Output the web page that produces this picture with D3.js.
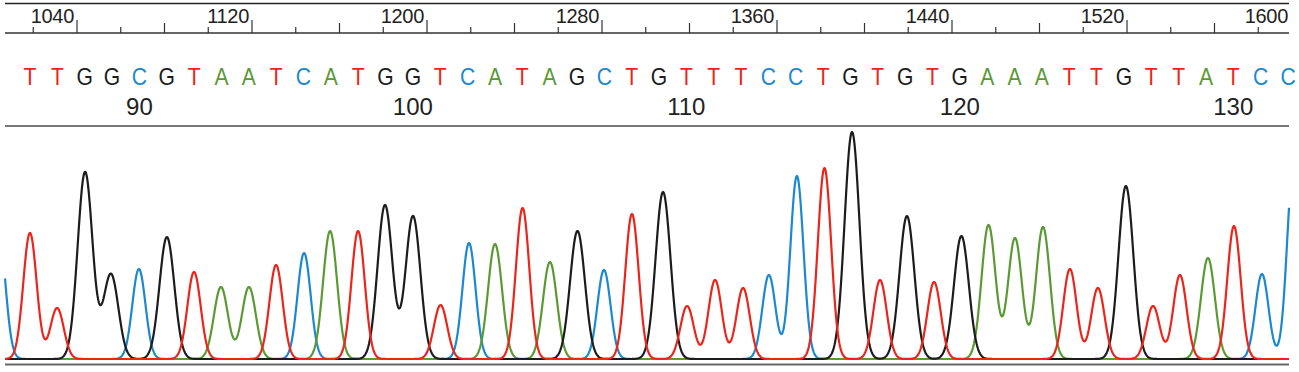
<!DOCTYPE html>
<html lang="en">
<head>
<meta charset="UTF-8">
<title>Chromatogram</title>
<script src="https://d3js.org/d3.v7.min.js"></script>
<style>
  body { margin: 0; background: #fff; }
  text { font-family: "Liberation Sans", Arial, sans-serif; }
</style>
</head>
<body>
<div id="chart"></div>
<script>
// base calls, numbered 86..132
const bases = "TTGGCGTAATCATGGTCATAGCTGTTTCCTGTGTGAAATTGTTATCC".split("");
const firstBase = 86;
const baseTicks = [90, 100, 110, 120, 130];

// peaks (scan position, height)
const peakBases = "CTTGGCGTAATCATGGTCATAGCTGTTTCCTGTGTGAAATTGTTATCC".split("");
const peakScan = [1004.3, 1018.5, 1030.9, 1043.7, 1055.5, 1068.3, 1081.1, 1093.5, 1105.8, 1118.6,
    1131.0, 1143.8, 1155.7, 1168.5, 1180.8, 1193.6, 1206.2, 1219.2, 1231.1, 1243.7,
    1256.2, 1268.8, 1280.9, 1293.7, 1307.9, 1318.9, 1331.7, 1344.5, 1356.3, 1369.1,
    1381.7, 1394.3, 1407.1, 1419.4, 1431.8, 1444.3, 1456.7, 1468.8, 1481.6, 1493.9,
    1506.7, 1519.5, 1531.9, 1544.2, 1557.0, 1568.9, 1581.7, 1596.3];
const peakHeight = [124, 126, 51, 187, 85, 90, 122, 87, 72, 72,
    94, 106, 128, 128, 154, 143, 54, 116, 115, 151,
    97, 128, 89, 145, 167, 53, 79, 71, 84, 183,
    191, 227, 79, 143, 77, 123, 134, 121, 132, 90,
    71, 173, 53, 84, 101, 133, 85, 200];

// scan axis
const scanTicks = d3.range(1020, 1601, 20);
const colors = { A: "#5b9a33", C: "#1c88cf", G: "#1c1c1c", T: "#ec2419" };
const widths = { A: 3.2, C: 3.0, G: 3.4, T: 3.05 };

const W = 1299, H = 372;
const left = 5, right = 1289;

const svg = d3.select("#chart").append("svg")
    .attr("width", W)
    .attr("height", H);

svg.append("rect").attr("width", W).attr("height", H).attr("fill", "#fff");

const x = d3.scaleLinear().domain([1040, 1600]).range([77, 1302]);
const xBase = d3.scaleLinear().domain([firstBase, firstBase + bases.length - 1]).range([30, 1288]);
const y = d3.scaleLinear().domain([0, 250]).range([359, 109]);

// frame lines
const hline = (yy, color, w) => svg.append("line")
    .attr("x1", left).attr("x2", right)
    .attr("y1", yy).attr("y2", yy)
    .attr("stroke", color).attr("stroke-width", w);
hline(3.5, "#222", 1.3);
hline(33, "#333", 1.3);
hline(126, "#777", 2);
hline(364.5, "#666", 1.8);

// scan ticks
const ticks = scanTicks.filter(v => x(v) >= left && x(v) <= right);
svg.append("g").selectAll("line")
    .data(ticks)
    .join("line")
    .attr("x1", d => x(d)).attr("x2", d => x(d))
    .attr("y1", d => d % 80 === 0 ? 20 : (d % 40 === 0 ? 23 : 27))
    .attr("y2", 33)
    .attr("stroke", "#333")
    .attr("stroke-width", 1.2);

svg.append("g").selectAll("text")
    .data(scanTicks.filter(v => v % 80 === 0))
    .join("text")
    .attr("x", d => Math.min(x(d) - 3, right - 1))
    .attr("y", 23)
    .attr("text-anchor", "end")
    .attr("font-size", 20)
    .attr("letter-spacing", -0.3)
    .attr("fill", "#222")
    .text(d => d);

// base letters
svg.append("g").selectAll("text")
    .data(bases)
    .join("text")
    .attr("transform", (d, i) => `translate(${xBase(firstBase + i)},84.5) scale(0.88,1)`)
    .attr("text-anchor", "middle")
    .attr("font-size", 24)
    .attr("fill", d => colors[d])
    .text(d => d);

// base numbers
svg.append("g").selectAll("text")
    .data(baseTicks)
    .join("text")
    .attr("x", d => xBase(d))
    .attr("y", 115)
    .attr("text-anchor", "middle")
    .attr("font-size", 24)
    .attr("fill", "#222")
    .text(d => d);

// traces
const samples = d3.range(left, right + 0.01, 0.5).map(px => x.invert(px));
const line = d3.line().x(d => x(d.v)).y(d => y(d.s));

["C", "A", "G", "T"].forEach(ch => {
    const s = widths[ch];
    const pts = samples.map(v => {
        let sum = 0;
        peakBases.forEach((b, i) => {
            if (b !== ch) return;
            const d = (v - peakScan[i]) / s;
            sum += peakHeight[i] * Math.exp(-0.5 * d * d);
        });
        return { v: v, s: sum };
    });
    svg.append("path")
        .datum(pts)
        .attr("d", line)
        .attr("fill", "none")
        .attr("stroke", colors[ch])
        .attr("stroke-width", 2.2)
        .attr("stroke-linejoin", "round");
});
</script>
</body>
</html>
